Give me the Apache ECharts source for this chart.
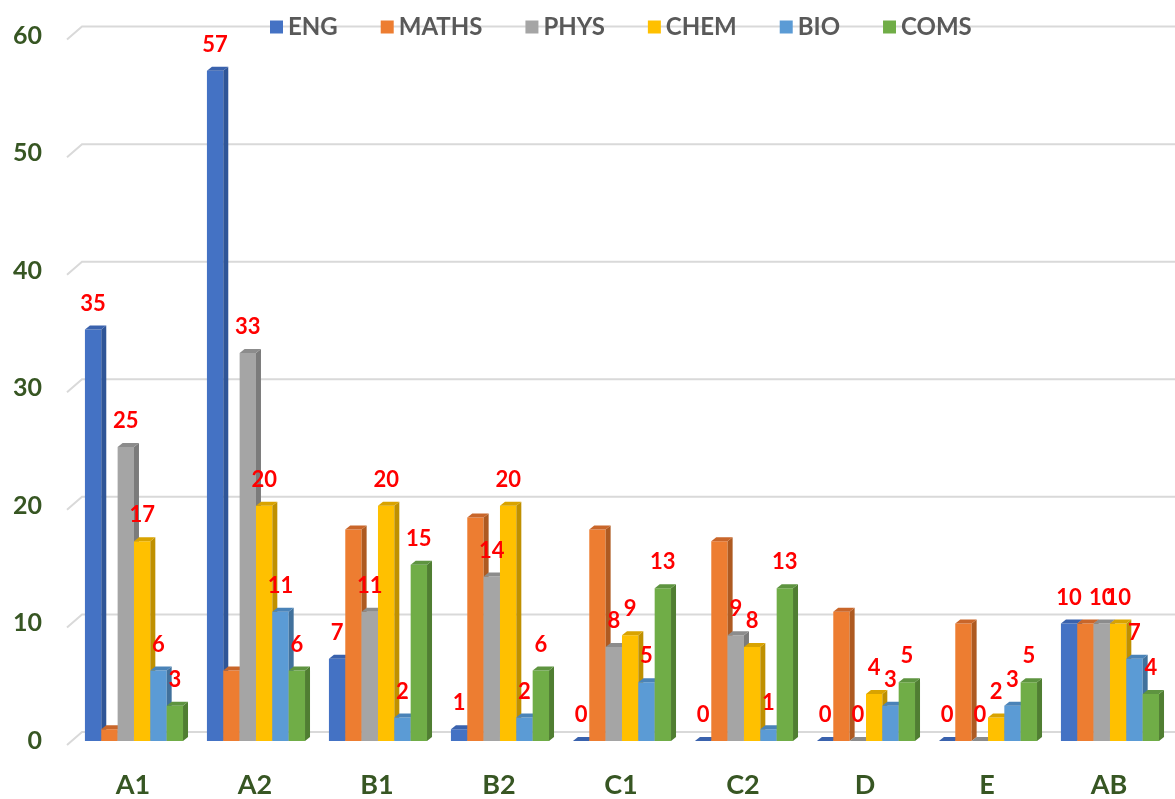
<!DOCTYPE html>
<html>
<head>
<meta charset="utf-8">
<script src="https://cdn.jsdelivr.net/npm/echarts@6/dist/echarts.min.js"></script>
<style>
html,body{margin:0;padding:0;background:#fff;}
#chart{width:1175px;height:799px;}
</style>
</head>
<body>
<div id="chart"></div>
<script>
const categories = ['A1','A2','B1','B2','C1','C2','D','E','AB'];
const ENG   = [35,57,7,1,0,0,0,0,10];
const MATHS = [1,6,18,19,18,17,11,10,10];
const PHYS  = [25,33,11,14,8,9,0,0,10];
const CHEM  = [17,20,20,20,9,8,4,2,10];
const BIO   = [6,11,2,2,5,1,3,3,7];
const COMS  = [3,6,15,6,13,13,5,5,4];
const yTicks = [0,10,20,30,40,50,60];

const seriesDefs = [
  {name:'ENG',   data:ENG,   color:'#4472C4', side:'#2F5597', top:'#3A62AD', label:true},
  {name:'MATHS', data:MATHS, color:'#ED7D31', side:'#AE5A21', top:'#C9662A', label:false},
  {name:'PHYS',  data:PHYS,  color:'#A5A5A5', side:'#7B7B7B', top:'#8C8C8C', label:true},
  {name:'CHEM',  data:CHEM,  color:'#FFC000', side:'#BF9000', top:'#D9A300', label:true},
  {name:'BIO',   data:BIO,   color:'#5B9BD5', side:'#41719C', top:'#4A83B8', label:true},
  {name:'COMS',  data:COMS,  color:'#70AD47', side:'#507E32', top:'#5E9440', label:true}
];

const FONT = 'Lato, "Open Sans", sans-serif';

function makeRender(i, def) {
  return function (params, api) {
    const idx = api.value(0);
    const v = api.value(1);
    const band = api.size([1, 0])[0];
    const c = api.coord([idx, v]);
    const b = api.coord([idx, 0]);
    const bw = band * 0.134;
    const x0 = c[0] - band * 0.394 + i * bw;
    const x1 = x0 + bw;
    const yT = c[1], yB = b[1];
    const dx = 5, dy = -4;
    const children = [
      {type:'rect', shape:{x:x0, y:yT, width:bw, height:Math.max(yB - yT, 0)}, style:{fill:def.color}},
      {type:'polygon', shape:{points:[[x1,yT],[x1+dx,yT+dy],[x1+dx,yB+dy],[x1,yB]]}, style:{fill:def.side}},
      {type:'polygon', shape:{points:[[x0,yT],[x0+dx,yT+dy],[x1+dx,yT+dy],[x1,yT]]}, style:{fill:def.top}}
    ];
    if (def.label) {
      children.push({type:'text', style:{text:String(v), x:(x0 + x1) / 2, y:yT - 26,
        align:'center', verticalAlign:'middle', fill:'#FF0000',
        fontSize:22, fontWeight:'bold', fontFamily:FONT}, z2:10});
    }
    return {type:'group', children:children};
  };
}

const series = [];
series.push({
  name:'grid', type:'custom', silent:true, z:0,
  data: yTicks.map(t => [0, t]),
  renderItem: function (params, api) {
    const y = api.coord([0, api.value(1)])[1];
    const cs = params.coordSys;
    return {type:'polyline', shape:{points:[[cs.x - 5, y + 4],[cs.x + 10, y - 9],[cs.x + cs.width + 20, y - 9]]},
      style:{stroke:'#D9D9D9', lineWidth:2, fill:null}};
  }
});
seriesDefs.forEach((d, i) => {
  series.push({
    name:d.name, type:'custom', z:2,
    itemStyle:{color:d.color},
    data: categories.map((c, k) => [k, d.data[k]]),
    renderItem: makeRender(i, d)
  });
});

const chart = echarts.init(document.getElementById('chart'));
chart.setOption({
  animation:false,
  backgroundColor:'#fff',
  legend:{
    data: seriesDefs.map(d => d.name),
    left:265, top:10, icon:'rect', itemWidth:13, itemHeight:13, itemGap:43,
    textStyle:{color:'#595959', fontSize:24, fontWeight:'bold', fontFamily:FONT}
  },
  grid:{left:72, right:5, top:35.6, bottom:56, containLabel:false},
  xAxis:{
    type:'category', data:categories,
    axisLine:{show:false}, axisTick:{show:false}, splitLine:{show:false},
    axisLabel:{margin:31, color:'#375623', fontSize:27, fontWeight:'bold', fontFamily:FONT}
  },
  yAxis:{
    type:'value', min:0, max:60, interval:10,
    axisLine:{show:false}, axisTick:{show:false}, splitLine:{show:false},
    axisLabel:{margin:30, color:'#375623', fontSize:25, fontWeight:'bold', fontFamily:FONT, padding:[8,0,0,0]}
  },
  series: series
});
</script>
</body>
</html>
